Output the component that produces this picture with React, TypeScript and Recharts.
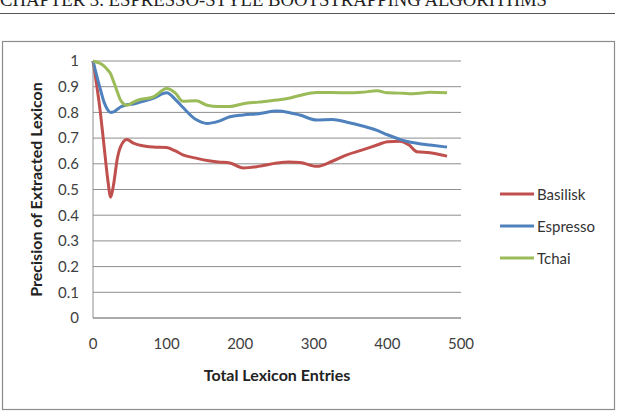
import { LineChart, Line, XAxis, YAxis, CartesianGrid } from "recharts";

// x positions (total lexicon entries)
const entries = [0, 10, 15, 20, 24, 28, 33, 38, 46, 55, 64, 82, 100, 112, 122, 140, 155, 170, 186, 204, 225, 250, 266, 281, 304, 325, 345, 365, 386, 400, 417, 430, 440, 458, 481];

const basilisk = [1.0, 0.8, 0.67, 0.54, 0.47, 0.52, 0.62, 0.67, 0.695, 0.68, 0.672, 0.665, 0.663, 0.65, 0.635, 0.622, 0.613, 0.607, 0.603, 0.584, 0.59, 0.603, 0.607, 0.605, 0.59, 0.61, 0.635, 0.653, 0.673, 0.686, 0.688, 0.672, 0.647, 0.643, 0.63];
const espresso = [1.0, 0.89, 0.84, 0.81, 0.8, 0.802, 0.812, 0.822, 0.83, 0.833, 0.84, 0.855, 0.876, 0.85, 0.82, 0.772, 0.757, 0.765, 0.783, 0.79, 0.795, 0.805, 0.8, 0.79, 0.77, 0.772, 0.762, 0.748, 0.73, 0.713, 0.695, 0.685, 0.68, 0.673, 0.665];
const tchai = [1.0, 0.99, 0.98, 0.965, 0.95, 0.92, 0.88, 0.845, 0.828, 0.84, 0.85, 0.86, 0.893, 0.875, 0.843, 0.845, 0.828, 0.823, 0.823, 0.834, 0.84, 0.848, 0.855, 0.866, 0.877, 0.877, 0.876, 0.878, 0.884, 0.876, 0.875, 0.873, 0.874, 0.878, 0.876];

const xTicks = [0, 100, 200, 300, 400, 500];
const yTicks = [0, 0.1, 0.2, 0.3, 0.4, 0.5, 0.6, 0.7, 0.8, 0.9, 1];

const series = [
  { key: "Basilisk", color: "#C0504D" },
  { key: "Espresso", color: "#4F81BD" },
  { key: "Tchai", color: "#9BBB59" },
];

const data = entries.map((x, i) => ({
  x,
  Basilisk: basilisk[i],
  Espresso: espresso[i],
  Tchai: tchai[i],
}));

const font = "Lato, 'Open Sans', sans-serif";

// legend drawn as a plain overlay so it doesn't eat plot width
function LegendBox() {
  return (
    <div style={{ position: "absolute", left: 500, top: 178, fontFamily: font, fontSize: 15, color: "#333" }}>
      {series.map((s) => (
        <div key={s.key} style={{ display: "flex", alignItems: "center", height: 32 }}>
          <svg width={36} height={6} style={{ marginRight: 1 }}>
            <line x1={0} y1={3} x2={34} y2={3} stroke={s.color} strokeWidth={3} />
          </svg>
          <span>{s.key}</span>
        </div>
      ))}
    </div>
  );
}

export default function App() {
  return (
    <div style={{ position: "absolute", left: 0, top: 0, width: 619, height: 414, overflow: "hidden", background: "#fff" }}>
      <svg width={619} height={414} style={{ position: "absolute", left: 0, top: 0 }}>
        <text x={0} y={6} fontSize={18} fontFamily="'Liberation Serif', serif" fill="#222" textLength={547} lengthAdjust="spacingAndGlyphs">
          CHAPTER 3.  ESPRESSO-STYLE BOOTSTRAPPING ALGORITHMS
        </text>
        <line x1={0} y1={13.5} x2={615} y2={13.5} stroke="#555" strokeWidth={1.2} />
        <rect x={2.5} y={41.5} width={612} height={368} fill="none" stroke="#8c8c8c" strokeWidth={1.2} />
      </svg>
      <div style={{ position: "absolute", left: 0, top: 0 }}>
        <LineChart width={619} height={414} data={data} margin={{ top: 61, right: 158, bottom: 66, left: 0 }}>
          <CartesianGrid horizontal vertical={false} stroke="#8e8e8e" />
          <XAxis
            dataKey="x"
            type="number"
            domain={[0, 500]}
            ticks={xTicks}
            height={30}
            tickLine={false}
            tickMargin={14}
            axisLine={{ stroke: "#8e8e8e" }}
            tick={{ fill: "#404040", fontSize: 15, fontFamily: font }}
            label={{ value: "Total Lexicon Entries", position: "bottom", offset: 22, style: { fill: "#222", fontSize: 16, fontWeight: 700, fontFamily: font } }}
          />
          <YAxis
            type="number"
            domain={[0, 1]}
            ticks={yTicks}
            width={93}
            tickLine={false}
            tickMargin={8}
            interval={0}
            axisLine={{ stroke: "#8e8e8e" }}
            tickFormatter={(v: number) => String(Math.round(v * 10) / 10)}
            tick={{ fill: "#404040", fontSize: 15, fontFamily: font }}
            label={{ value: "Precision of Extracted Lexicon", angle: -90, position: "center", dx: -10, style: { fill: "#222", fontSize: 16, fontWeight: 700, fontFamily: font, textAnchor: "middle" } }}
          />
          {series.map((s) => (
            <Line
              key={s.key}
              dataKey={s.key}
              type="monotone"
              stroke={s.color}
              strokeWidth={3}
              dot={false}
              isAnimationActive={false}
            />
          ))}
        </LineChart>
      </div>
      <LegendBox />
    </div>
  );
}
